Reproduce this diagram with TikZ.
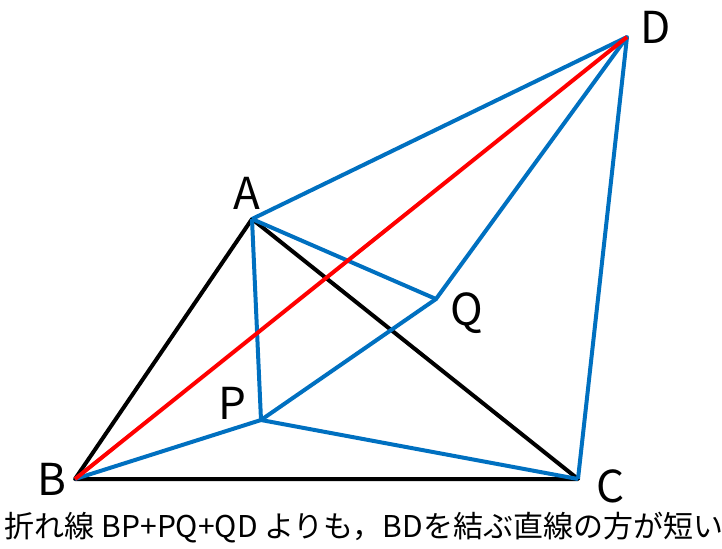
\documentclass[tikz,border=0pt]{standalone}
\usepackage{fontspec}
\setmainfont{Noto Sans CJK JP}
\usetikzlibrary{positioning}

\definecolor{segblue}{HTML}{0070C0}
\definecolor{segred}{HTML}{FF0000}

\begin{document}
\begin{tikzpicture}[x=0.5pt, y=-0.5pt, line width=2pt, line join=round,
    tri/.style={draw=black},
    path/.style={draw=segblue},
    chord/.style={draw=segred},
    ptlabel/.style={font=\fontsize{22}{26}\selectfont, inner sep=0pt}]
  \useasboundingbox (0,0) rectangle (722,548);
  % points
  \coordinate (A) at (252,219);
  \coordinate (B) at (75,479);
  \coordinate (C) at (578,479);
  \coordinate (D) at (627,37);
  \coordinate (P) at (261,420);
  \coordinate (Q) at (436,299);
  % labels
  \node[ptlabel] (la) at (247,193) {A};
  \node[ptlabel] (lb) at (52,479) {B};
  \node[ptlabel] (lc) at (611,486) {C};
  \node[ptlabel] (ld) at (656,27) {D};
  \node[ptlabel] (lp) at (232,403) {P};
  \node[ptlabel] (lq) at (467,313) {Q};
  \node[font=\fontsize{15}{18}\selectfont, inner sep=0pt] (caption) at (364,528)
    {折れ線 BP+PQ+QD よりも，BDを結ぶ直線の方が短い};
  % triangle ABC
  \draw[tri] (B) -- (A) -- (C) -- cycle;
  % blue segments
  \draw[path] (B) -- (P) -- (Q) -- (D);
  \draw[path] (A) -- (D) -- (C);
  \draw[path] (A) -- (P) -- (C);
  \draw[path] (A) -- (Q);
  % straight line BD
  \draw[chord] (B) -- (D);
\end{tikzpicture}
\end{document}
